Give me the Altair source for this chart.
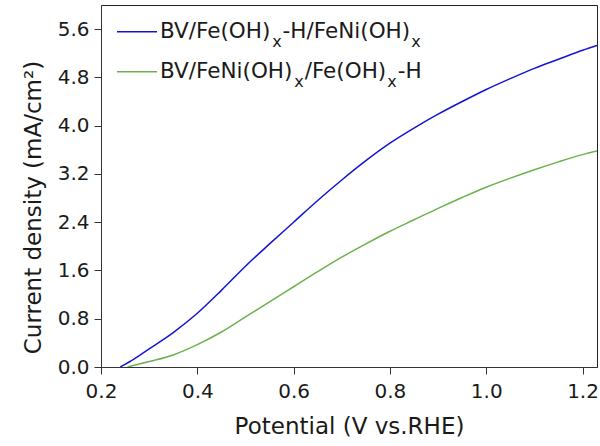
import altair as alt
import pandas as pd

# ---- data ----
blue_x = [0.24, 0.27, 0.30, 0.35, 0.40, 0.45, 0.50, 0.55, 0.60, 0.65, 0.70, 0.75,
          0.80, 0.85, 0.90, 0.95, 1.00, 1.05, 1.10, 1.15, 1.20, 1.23]
blue_y = [0.0, 0.14, 0.30, 0.57, 0.89, 1.27, 1.67, 2.04, 2.40, 2.76, 3.10, 3.42,
          3.71, 3.96, 4.19, 4.40, 4.60, 4.78, 4.95, 5.10, 5.25, 5.33]
green_x = [0.255, 0.30, 0.35, 0.40, 0.45, 0.50, 0.55, 0.60, 0.65, 0.70, 0.75,
           0.80, 0.85, 0.90, 0.95, 1.00, 1.05, 1.10, 1.15, 1.20, 1.23]
green_y = [0.0, 0.09, 0.20, 0.37, 0.58, 0.83, 1.08, 1.33, 1.58, 1.82, 2.04,
           2.25, 2.44, 2.63, 2.81, 2.98, 3.13, 3.27, 3.40, 3.52, 3.58]
series_names = ["BV/Fe(OH)x-H/FeNi(OH)x", "BV/FeNi(OH)x/Fe(OH)x-H"]
series_colors = ["#1414d4", "#6cb14e"]
x_ticks = [0.2, 0.4, 0.6, 0.8, 1.0, 1.2]
y_ticks = [0.0, 0.8, 1.6, 2.4, 3.2, 4.0, 4.8, 5.6]

df = pd.concat([
    pd.DataFrame({"V": blue_x, "J": blue_y, "series": series_names[0], "o": 1}),
    pd.DataFrame({"V": green_x, "J": green_y, "series": series_names[1], "o": 0}),
])

FONT = "DejaVu Sans"
W, H = 496, 362

lines = alt.Chart(df).mark_line(clip=True, interpolate="monotone", strokeWidth=1.5).encode(
    x=alt.X("V:Q", scale=alt.Scale(domain=[0.2, 1.23], nice=False, zero=False),
            axis=alt.Axis(values=x_ticks, format=".1f", title="Potential (V vs.RHE)",
                          labelFlush=False, labelPadding=7, tickSize=7,
                          titleX=W / 2, titleY=66, titleAlign="center",
                          titleBaseline="alphabetic")),
    y=alt.Y("J:Q", scale=alt.Scale(domain=[0, 6.0], nice=False),
            axis=alt.Axis(values=y_ticks, format=".1f", title="Current density (mA/cm²)",
                          labelPadding=5, tickSize=7,
                          titleX=-61, titleY=202, titleAngle=270, titleAlign="center",
                          titleBaseline="alphabetic")),
    color=alt.Color("series:N", scale=alt.Scale(domain=series_names, range=series_colors),
                    legend=None),
    order="o:Q",
)

# ---- manual legend with subscripts ----
wtab = {'B': 686, 'V': 684, '/': 337, 'F': 575, 'e': 615, '(': 390, 'O': 787, 'H': 752,
        ')': 390, '-': 361, 'N': 748, 'i': 278, 'x': 592}


def tw(s, fs):
    return sum(wtab.get(c, 600) for c in s) * fs / 1000.0


MAIN, SUB = 21.5, 16
legend_pieces = [
    [("BV/Fe(OH)", 0), ("x", 1), ("-H/FeNi(OH)", 0), ("x", 1)],
    [("BV/FeNi(OH)", 0), ("x", 1), ("/Fe(OH)", 0), ("x", 1), ("-H", 0)],
]
layers = [lines]
for i, pieces in enumerate(legend_pieces):
    ly = 26.7 + 40 * i
    layers.append(
        alt.Chart(pd.DataFrame({"a": [0]})).mark_rule(
            color=series_colors[i], strokeWidth=1.5).encode(
            x=alt.value(16), x2=alt.value(56), y=alt.value(ly)))
    cx = 59
    for text, sub in pieces:
        fs = SUB if sub else MAIN
        yb = 33.3 + 40 * i + (9 if sub else 0)
        layers.append(
            alt.Chart(pd.DataFrame({"a": [0]})).mark_text(
                text=text, fontSize=fs, font=FONT, align="left", baseline="alphabetic",
                color="#1a1a1a").encode(x=alt.value(cx), y=alt.value(yb)))
        cx += tw(text, fs) + (1 if sub else 0)

chart = alt.layer(*layers).properties(
    width=W, height=H,
    autosize=alt.AutoSizeParams(type="none"),
    padding={"left": 101, "top": 5, "right": 3, "bottom": 79},
).configure_view(
    stroke="#222", strokeWidth=1
).configure_axis(
    grid=False, domainColor="#333", tickColor="#333", domainWidth=1, tickWidth=1,
    labelFont=FONT, labelFontSize=20, labelColor="#1a1a1a",
    titleFont=FONT, titleFontSize=23, titleFontWeight="normal", titleColor="#1a1a1a",
)

chart.save("out.html", embed_options={"renderer": "svg", "actions": False})
